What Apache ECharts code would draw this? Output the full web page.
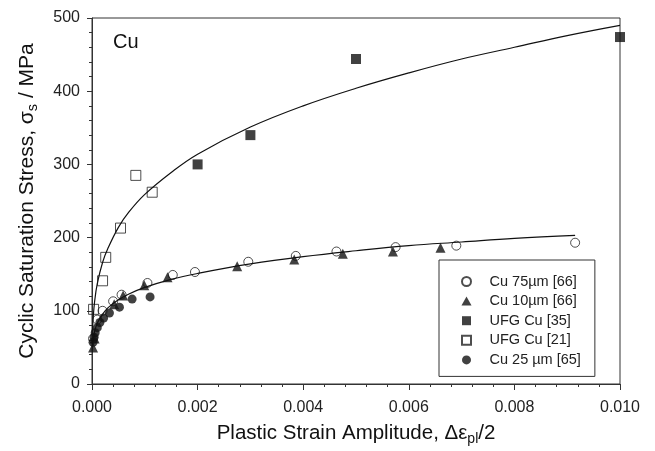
<!DOCTYPE html>
<html>
<head>
<meta charset="utf-8">
<script src="https://cdn.jsdelivr.net/npm/echarts@6/dist/echarts.min.js"></script>
<style>
html, body { margin: 0; padding: 0; background: #fff; }
#chart { width: 655px; height: 451px; }
</style>
</head>
<body>
<div id="chart"></div>
<script>
var FONT = 'Liberation Sans, Arial, sans-serif';

var cu75Strain = [0.00002, 0.0001, 0.0002, 0.0004, 0.00056, 0.00105, 0.00153, 0.00195, 0.00296, 0.00386, 0.00463, 0.00575, 0.0069, 0.00915];
var cu75Stress = [62, 88, 100, 113, 122, 138, 149, 153, 167, 175, 181, 187, 189, 193];

var cu10Strain = [0.00002, 0.00005, 0.00042, 0.00059, 0.00099, 0.00143, 0.00275, 0.00383, 0.00475, 0.0057, 0.0066];
var cu10Stress = [50, 62, 109, 121, 135, 146, 161, 170, 178, 181, 186];

var ufg35Strain = [0.002, 0.003, 0.005, 0.010];
var ufg35Stress = [300, 340, 444, 474];

var ufg21Strain = [0.00003, 0.0002, 0.00026, 0.00054, 0.00083, 0.00114];
var ufg21Stress = [102, 141, 173, 213, 285, 262];

var cu25Strain = [0.00002, 0.00004, 0.00006, 0.0001, 0.00015, 0.00022, 0.00033, 0.00052, 0.00076, 0.0011];
var cu25Stress = [57, 64, 70, 77, 84, 90, 97, 105, 116, 119];

// fitted curves
var upperFitStrain = [0.00001, 0.00002, 0.00005, 0.0001, 0.0002, 0.0003, 0.0005, 0.0007, 0.001, 0.0015, 0.002, 0.003, 0.004, 0.005, 0.006, 0.007, 0.008, 0.009, 0.010];
var upperFitStress = [73, 88, 113, 137, 166, 185, 214, 235, 259, 289, 314, 351, 380, 404, 425, 444, 460, 476, 490];

var lowerFitStrain = [0.00001, 0.00002, 0.00005, 0.0001, 0.0002, 0.0003, 0.0005, 0.0007, 0.001, 0.0015, 0.002, 0.003, 0.004, 0.005, 0.006, 0.007, 0.008, 0.00915];
var lowerFitStress = [52, 60, 72, 83, 95, 104, 115, 123, 132, 143, 151, 164, 174, 182, 189, 194, 199, 203];

var legendNames = ['Cu 75\u00b5m [66]', 'Cu 10\u00b5m [66]', 'UFG Cu [35]', 'UFG Cu [21]', 'Cu 25 \u00b5m [65]'];

var squarePath = 'path://M0,0H10V10H0Z';
var trianglePath = 'path://M5,0L10,9L0,9Z';

function pairs(xs, ys) {
	var out = [];
	for (var i = 0; i < xs.length; i++) out.push([xs[i], ys[i]]);
	return out;
}

function fitLine(xs, ys) {
	return {
		type: 'line', data: pairs(xs, ys), smooth: 0.4,
		showSymbol: false, silent: true,
		lineStyle: {color: '#111', width: 1.2}
	};
}

function points(name, xs, ys, symbol, size, open) {
	return {
		type: 'scatter', name: name, data: pairs(xs, ys),
		symbol: symbol, symbolSize: size,
		itemStyle: open
			? {color: 'rgba(255,255,255,0)', borderColor: '#222', borderWidth: 1}
			: {color: '#111', borderWidth: 0}
	};
}

var chart = echarts.init(document.getElementById('chart'));

chart.setOption({
	animation: false,
	backgroundColor: '#fff',
	textStyle: {fontFamily: FONT},
	grid: {left: 92, right: 35, top: 18, bottom: 64, show: true, borderColor: '#333', borderWidth: 1},
	graphic: [{
		type: 'text', left: 113, top: 32,
		style: {text: 'Cu', font: '20px ' + FONT, fill: '#111'}
	}],
	legend: {
		orient: 'vertical', left: 439, top: 260,
		padding: [14, 14, 9, 22],
		itemWidth: 36, itemHeight: 9, itemGap: 4.6,
		backgroundColor: '#fff', borderColor: '#333', borderWidth: 1,
		textStyle: {fontSize: 14.5, lineHeight: 14, color: '#222', fontFamily: FONT},
		data: [
			{name: legendNames[0], icon: 'circle'},
			{name: legendNames[1], icon: trianglePath},
			{name: legendNames[2], icon: squarePath},
			{name: legendNames[3], icon: squarePath},
			{name: legendNames[4], icon: 'circle'}
		]
	},
	xAxis: {
		type: 'value', min: 0, max: 0.01, interval: 0.002,
		name: '{t|Plastic Strain Amplitude, \u0394\u03b5}{s|pl}{t|/2}',
		nameLocation: 'middle', nameGap: 36,
		nameTextStyle: {
			rich: {
				t: {fontSize: 20.5, lineHeight: 26, color: '#111', fontFamily: FONT},
				s: {fontSize: 14, lineHeight: 14, verticalAlign: 'bottom', color: '#111', fontFamily: FONT}
			}
		},
		axisLine: {lineStyle: {color: '#333', width: 1}},
		axisTick: {length: 6, lineStyle: {color: '#333'}},
		minorTick: {show: true, splitNumber: 5, length: 3, lineStyle: {color: '#333'}},
		splitLine: {show: false},
		axisLabel: {
			fontSize: 16, color: '#222', margin: 16, fontFamily: FONT,
			formatter: function(v) { return v.toFixed(3); }
		}
	},
	yAxis: {
		type: 'value', min: 0, max: 500, interval: 100,
		name: '{t|Cyclic Saturation Stress, \u03c3}{s|s}{t| / MPa}',
		nameLocation: 'middle', nameGap: 52, nameRotate: 90,
		nameTextStyle: {
			rich: {
				t: {fontSize: 21, lineHeight: 26, color: '#111', fontFamily: FONT},
				s: {fontSize: 14.5, lineHeight: 14, verticalAlign: 'bottom', color: '#111', fontFamily: FONT}
			}
		},
		axisLine: {show: true, lineStyle: {color: '#333', width: 1}},
		axisTick: {show: true, length: 5, lineStyle: {color: '#333'}},
		minorTick: {show: true, splitNumber: 5, length: 3, lineStyle: {color: '#333'}},
		splitLine: {show: false},
		axisLabel: {fontSize: 16, color: '#222', margin: 12, fontFamily: FONT}
	},
	series: [
		fitLine(upperFitStrain, upperFitStress),
		fitLine(lowerFitStrain, lowerFitStress),
		points(legendNames[0], cu75Strain, cu75Stress, 'circle', 9, true),
		points(legendNames[1], cu10Strain, cu10Stress, 'triangle', 10, false),
		points(legendNames[2], ufg35Strain, ufg35Stress, 'rect', 10, false),
		points(legendNames[3], ufg21Strain, ufg21Stress, 'rect', 10, true),
		points(legendNames[4], cu25Strain, cu25Stress, 'circle', 9, false)
	]
});
</script>
</body>
</html>
